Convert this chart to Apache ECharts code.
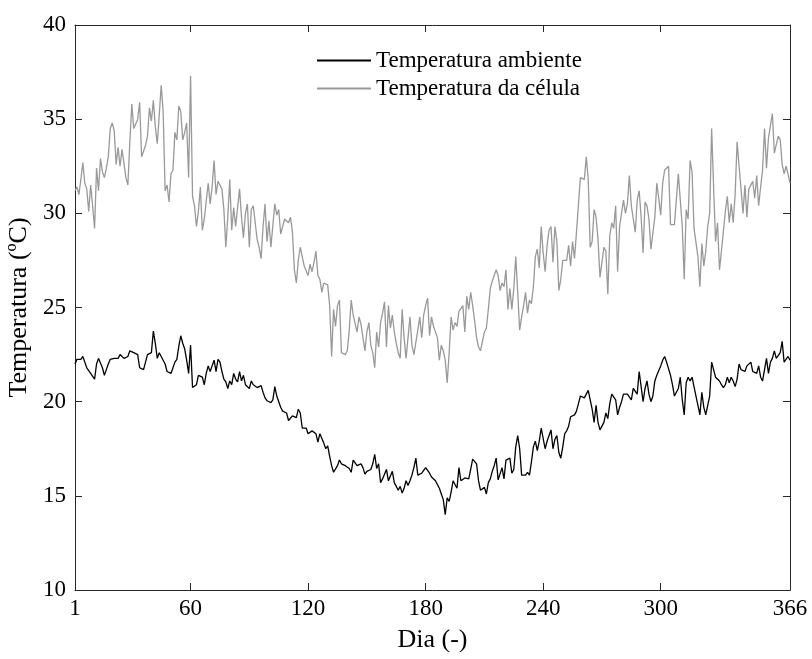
<!DOCTYPE html>
<html>
<head>
<meta charset="utf-8">
<script src="https://cdn.jsdelivr.net/npm/echarts@6/dist/echarts.min.js"></script>
<style>
  html, body { margin: 0; padding: 0; background: #fff; }
  #chart { width: 812px; height: 659px; }
</style>
</head>
<body>
<div id="chart"></div>
<script>
// Daily temperatures over one year (day 1..366)
const seriesNames = ['Temperatura ambiente', 'Temperatura da célula'];

const ambientTemp = [
  22.0, 22.25, 22.2, 22.25, 22.4, 22.1, 21.8, 21.7, 21.5, 21.4,
  21.2, 22.0, 22.3, 22.3, 21.8, 21.4, 21.7, 22.0, 22.25, 22.2,
  22.3, 22.3, 22.3, 22.5, 22.6, 22.3, 22.3, 22.4, 22.7, 22.8,
  22.6, 22.6, 22.5, 21.8, 21.7, 21.7, 21.8, 22.5, 22.6, 22.6,
  23.75, 23.1, 22.3, 22.6, 22.4, 22.2, 22.0, 21.6, 21.7, 21.5,
  21.6, 22.1, 22.25, 22.95, 23.5, 23.1, 22.8, 22.2, 21.5, 23.0,
  20.75, 20.75, 20.9, 21.4, 21.5, 21.3, 20.9, 21.5, 21.9, 21.6,
  21.9, 22.2, 21.6, 22.25, 22.1, 21.6, 21.2, 21.05, 20.7, 21.1,
  20.9, 21.5, 21.2, 21.05, 21.6, 21.1, 21.4, 20.9, 20.8, 20.7,
  21.1, 20.9, 20.85, 20.75, 20.7, 20.85, 20.5, 20.2, 20.05, 20.1,
  19.95, 20.1, 20.8, 20.3, 20.2, 19.7, 19.5, 19.4, 19.4, 19.0,
  19.05, 19.25, 19.15, 19.15, 19.6, 19.4, 18.6, 18.5, 18.6, 18.3,
  18.4, 18.45, 18.4, 18.3, 17.85, 18.3, 18.3, 17.8, 17.5, 17.65,
  17.1, 16.6, 16.25, 16.25, 16.6, 16.9, 16.7, 16.6, 16.6, 16.5,
  16.45, 16.25, 16.9, 16.95, 16.6, 16.6, 16.7, 16.5, 16.15, 16.3,
  16.3, 16.4, 16.7, 17.2, 16.45, 16.7, 15.7, 15.9, 16.15, 16.4,
  15.8, 15.75, 16.3, 15.7, 15.5, 15.3, 15.5, 15.15, 15.4, 15.8,
  15.55, 15.8, 16.1, 16.5, 17.0, 16.1, 16.1, 16.2, 16.2, 16.5,
  16.4, 16.2, 16.0, 15.9, 15.8, 15.6, 15.4, 15.1, 14.8, 14.0,
  14.9, 14.7, 15.2, 15.8, 15.9, 15.4, 16.5, 15.8, 15.9, 15.95,
  16.0, 15.9, 16.4, 16.95, 17.0, 16.7, 15.8, 15.3, 15.35, 15.45,
  15.1, 15.7, 15.9, 16.3, 16.6, 17.0, 15.85, 15.9, 16.5, 15.9,
  16.9, 16.95, 17.0, 16.2, 16.4, 17.6, 18.2, 17.5, 16.1, 16.1,
  16.1, 16.25, 16.1, 16.8, 17.6, 17.9, 17.4, 17.9, 18.6, 18.6,
  17.5, 17.9, 18.2, 18.5, 17.5, 18.0, 18.2, 17.3, 17.0, 17.6,
  18.3, 18.45, 18.7, 19.2, 19.2, 19.3, 19.5, 19.9, 20.3, 20.4,
  20.2, 20.4, 20.6, 20.6, 19.6, 18.9, 19.8, 18.9, 18.5, 18.6,
  18.9, 19.4, 19.1, 19.9, 20.4, 20.3, 20.1, 19.3, 19.7, 20.0,
  20.4, 20.3, 20.4, 20.4, 20.1, 20.7, 20.8, 20.4, 21.6, 20.8,
  20.0, 20.7, 21.1, 20.4, 20.0, 20.3, 21.1, 21.4, 21.4, 21.9,
  22.2, 22.4, 22.1, 22.1, 21.4, 20.9, 20.3, 20.2, 20.7, 21.3,
  20.1, 19.3, 21.0, 21.3, 21.1, 21.3, 20.8, 20.3, 19.8, 19.3,
  20.5, 19.7, 19.3, 19.8, 20.3, 22.1, 22.15, 21.3, 21.3, 21.1,
  20.9, 20.75, 20.9, 21.3, 21.0, 21.3, 21.1, 20.8, 21.2, 22.0,
  21.7, 21.7, 21.6, 21.9, 21.8, 22.1, 21.6, 21.6, 21.5, 21.9,
  21.3, 21.1, 21.7, 22.3, 21.5, 22.1, 22.3, 22.7, 22.3, 22.2,
  22.6, 23.2, 22.1, 22.1, 22.4, 22.2
];

const cellTemp = [
  31.2, 31.4, 31.0, 31.8, 32.7, 31.6, 31.3, 30.1, 31.5, 30.4,
  29.2, 32.4, 31.2, 32.9, 32.2, 31.9, 32.4, 33.0, 34.5, 34.8,
  34.4, 32.6, 33.5, 32.5, 33.4, 33.3, 31.9, 31.5, 33.8, 35.8,
  34.5, 34.4, 35.0, 35.9, 33.0, 32.9, 33.6, 34.1, 35.6, 34.9,
  36.0, 34.6, 33.7, 35.2, 36.8, 35.4, 31.2, 31.5, 30.6, 32.1,
  32.3, 34.3, 33.9, 35.7, 35.4, 33.9, 34.3, 34.8, 31.9, 37.3,
  30.9, 30.4, 29.3, 30.1, 31.4, 29.1, 29.7, 29.7, 31.6, 30.5,
  31.4, 32.8, 31.0, 31.7, 31.6, 31.3, 30.2, 28.2, 29.8, 31.8,
  29.1, 30.3, 29.3, 29.3, 31.3, 29.8, 28.7, 30.0, 30.5, 28.2,
  30.2, 30.4, 29.5, 28.6, 28.2, 27.6, 29.3, 30.5, 28.5, 29.6,
  28.2, 28.2, 30.5, 29.9, 30.2, 28.9, 28.8, 29.7, 29.7, 29.5,
  29.8, 29.0, 27.0, 26.3, 27.5, 28.2, 27.7, 27.2, 27.1, 26.7,
  27.3, 26.9, 27.4, 28.0, 26.7, 26.5, 25.8, 26.3, 26.3, 26.2,
  25.1, 22.4, 24.9, 24.0, 25.1, 25.4, 22.6, 22.5, 22.5, 22.7,
  23.8, 25.4, 24.6, 24.6, 23.7, 24.5, 24.1, 24.0, 22.7, 23.7,
  24.2, 23.0, 22.6, 21.8, 23.7, 22.9, 24.2, 24.7, 25.3, 22.9,
  25.1, 23.9, 24.6, 23.7, 23.1, 22.6, 22.3, 24.9, 23.4, 22.3,
  22.2, 24.5, 23.0, 22.5, 22.5, 23.8, 24.5, 23.4, 24.6, 25.1,
  25.5, 23.5, 24.5, 24.0, 23.9, 23.4, 22.2, 23.0, 22.7, 22.2,
  21.0, 22.6, 24.5, 23.8, 24.2, 24.0, 24.8, 24.9, 25.1, 23.7,
  25.6, 24.9, 25.8, 25.1, 24.3, 23.4, 22.9, 22.7, 22.6, 23.7,
  23.9, 24.9, 26.0, 26.4, 26.3, 27.0, 26.7, 25.9, 26.3, 26.1,
  27.0, 24.9, 26.0, 24.9, 26.0, 27.7, 25.8, 23.8, 24.5, 25.1,
  25.8, 24.7, 25.4, 25.2, 26.1, 27.7, 28.1, 27.1, 29.3, 27.9,
  26.9, 28.3, 29.1, 29.3, 27.4, 29.3, 28.5, 25.9, 26.5, 27.5,
  27.4, 27.5, 28.3, 27.2, 28.5, 27.6, 29.0, 29.0, 31.9, 31.9,
  31.8, 33.0, 31.8, 28.2, 28.5, 30.2, 29.8, 28.6, 26.6, 27.4,
  28.2, 28.0, 25.7, 28.8, 29.5, 29.2, 30.4, 26.9, 29.3, 29.4,
  30.7, 30.0, 30.5, 32.0, 30.4, 30.3, 29.0, 30.7, 31.2, 29.8,
  27.9, 30.6, 30.4, 29.7, 28.1, 28.0, 29.8, 31.6, 30.8, 29.9,
  31.6, 32.3, 32.3, 32.5, 29.4, 29.5, 29.4, 29.4, 32.1, 32.1,
  29.3, 26.5, 30.2, 29.7, 32.8, 32.2, 29.2, 29.1, 27.7, 26.1,
  28.4, 27.2, 28.0, 29.3, 30.0, 34.5, 31.4, 28.5, 29.5, 27.0,
  28.0, 28.1, 30.1, 30.9, 29.5, 30.5, 29.5, 31.0, 33.8, 32.5,
  31.3, 30.0, 31.5, 29.8, 31.3, 31.5, 31.7, 30.8, 32.0, 30.4,
  31.4, 32.3, 34.5, 32.4, 34.0, 34.1, 35.3, 33.2, 33.3, 34.1,
  33.9, 32.6, 32.1, 32.5, 32.1, 31.6
];

const xTicks = [1, 60, 120, 180, 240, 300, 366];
const yTicks = [10, 15, 20, 25, 30, 35, 40];

const FONT = '"Liberation Serif", "Times New Roman", serif';
const AXIS_COLOR = '#262626';

const toPairs = arr => arr.map((v, i) => [i + 1, v]);

const chart = echarts.init(document.getElementById('chart'), null, { renderer: 'canvas' });

const tickStyle = { show: true, inside: true, length: 7, lineStyle: { color: AXIS_COLOR, width: 1 } };
const lineStyle = { show: true, lineStyle: { color: AXIS_COLOR, width: 1 } };

chart.setOption({
  animation: false,
  backgroundColor: '#ffffff',
  grid: { left: 75, right: 22, top: 25, bottom: 69, containLabel: false, outerBoundsMode: 'none' },
  legend: {
    orient: 'vertical',
    left: 312,
    top: 44,
    itemWidth: 54,
    itemHeight: 2,
    itemGap: 5,
    icon: 'rect',
    textStyle: { fontFamily: FONT, fontSize: 23, color: '#000' },
    data: seriesNames
  },
  xAxis: [
    {
      type: 'value', min: 1, max: 366, position: 'bottom',
      axisLine: lineStyle,
      axisTick: Object.assign({ customValues: xTicks }, tickStyle),
      axisLabel: { customValues: xTicks, fontFamily: FONT, fontSize: 23, color: '#000', margin: 7 },
      splitLine: { show: false },
      name: 'Dia (-)', nameLocation: 'middle', nameGap: 37,
      nameTextStyle: { fontFamily: FONT, fontSize: 26, color: '#000' }
    },
    {
      type: 'value', min: 1, max: 366, position: 'top',
      axisLine: lineStyle,
      axisTick: Object.assign({ customValues: xTicks }, tickStyle),
      axisLabel: { show: false },
      splitLine: { show: false }
    }
  ],
  yAxis: [
    {
      type: 'value', min: 10, max: 40, interval: 5, position: 'left',
      axisLine: lineStyle,
      axisTick: tickStyle,
      axisLabel: { fontFamily: FONT, fontSize: 23, color: '#000', margin: 9 },
      splitLine: { show: false },
      name: 'Temperatura (ºC)', nameLocation: 'middle', nameGap: 42, nameRotate: 90,
      nameTextStyle: { fontFamily: FONT, fontSize: 26, color: '#000' }
    },
    {
      type: 'value', min: 10, max: 40, interval: 5, position: 'right',
      axisLine: lineStyle,
      axisTick: tickStyle,
      axisLabel: { show: false },
      splitLine: { show: false }
    }
  ],
  series: [
    {
      name: seriesNames[0], type: 'line', xAxisIndex: 0, yAxisIndex: 0,
      data: toPairs(ambientTemp), showSymbol: false, symbol: 'none',
      lineStyle: { color: '#000000', width: 1.3 }, itemStyle: { color: '#000000' }
    },
    {
      name: seriesNames[1], type: 'line', xAxisIndex: 0, yAxisIndex: 0,
      data: toPairs(cellTemp), showSymbol: false, symbol: 'none',
      lineStyle: { color: '#999999', width: 1.3 }, itemStyle: { color: '#999999' }
    }
  ]
});
</script>
</body>
</html>
